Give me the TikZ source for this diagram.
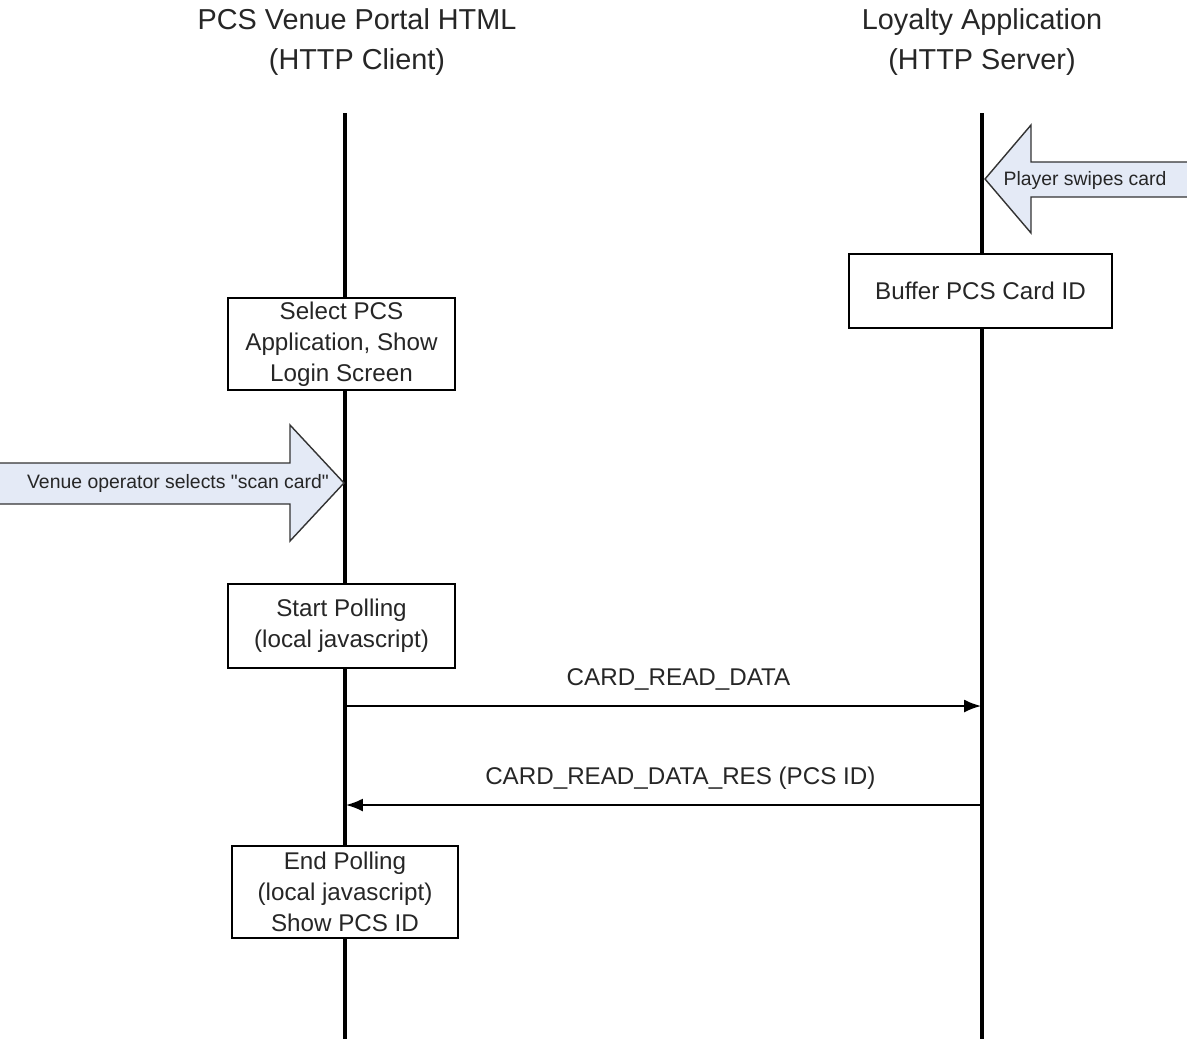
\documentclass[tikz,border=0pt]{standalone}
\usepackage{fontspec}
\setmainfont{Liberation Sans}[Ligatures=TeXOff]
\usetikzlibrary{arrows.meta}

\definecolor{eventfill}{HTML}{E4EAF6}
\definecolor{inkgray}{HTML}{262626}

\tikzstyle{title} = [align=center,text=inkgray,font=\fontsize{20.5}{28.5}\selectfont]
\tikzstyle{lifeline} = [line width=2.8pt]
\tikzstyle{actbox} = [draw,line width=1.3pt,fill=white,align=center,inner sep=0pt,text=inkgray,font=\fontsize{17.2}{22}\selectfont]
\tikzstyle{msglabel} = [text=inkgray,font=\fontsize{17.2}{22}\selectfont]
\tikzstyle{msg} = [line width=1.2pt,-{Latex[length=0.42cm,width=0.32cm]}]
\tikzstyle{eventarrow} = [draw=black!80,line width=1pt]
\tikzstyle{eventlabel} = [text=inkgray,font=\fontsize{13.8}{16}\selectfont]

\begin{document}
\begin{tikzpicture}[x=0.025cm,y=-0.025cm]
	\useasboundingbox (0,0) rectangle (1187,1039);

	% actors
	\node[title] (client) at (357,42) {PCS Venue Portal HTML\\(HTTP Client)};
	\node[title] (server) at (982,42) {Loyalty Application\\(HTTP Server)};

	\coordinate (ctop) at (345,113);
	\coordinate (cbot) at (345,1039);
	\coordinate (stop) at (982,113);
	\coordinate (sbot) at (982,1039);
	\draw[lifeline] (ctop) -- (cbot);
	\draw[lifeline] (stop) -- (sbot);

	% external events
	\fill[eventfill] (1190,162) -- (1031,162) -- (1031,125) -- (985,179)
		-- (1031,233) -- (1031,197) -- (1190,197) -- cycle;
	\draw[eventarrow] (1190,162) -- (1031,162) -- (1031,125) -- (985,179)
		-- (1031,233) -- (1031,197) -- (1190,197);
	\node[eventlabel] (swipe) at (1085,180) {Player swipes card};

	\fill[eventfill] (-3,463) -- (290,463) -- (290,425) -- (344,483)
		-- (290,541) -- (290,504) -- (-3,504) -- cycle;
	\draw[eventarrow] (-3,463) -- (290,463) -- (290,425) -- (344,483)
		-- (290,541) -- (290,504) -- (-3,504);
	\node[eventlabel] (scan) at (178,483) {Venue operator selects "scan card"};

	% activities
	\node[actbox,minimum width=6.575cm,minimum height=1.85cm] (buffer) at (980.5,291) {Buffer PCS Card ID};
	\node[actbox,minimum width=5.675cm,minimum height=2.3cm] (select) at (341.5,344) {Select PCS\\Application, Show\\Login Screen};
	\node[actbox,minimum width=5.675cm,minimum height=2.1cm] (startpoll) at (341.5,626) {Start Polling\\(local javascript)};
	\node[actbox,minimum width=5.65cm,minimum height=2.3cm] (endpoll) at (345,892) {End Polling\\(local javascript)\\Show PCS ID};

	% messages
	\coordinate (req1) at (345,706);
	\coordinate (req2) at (981,706);
	\coordinate (res1) at (981,805);
	\coordinate (res2) at (346,805);
	\draw[msg] (req1) -- node[msglabel][above=7pt,xshift=11pt]{CARD\_READ\_DATA}(req2);
	\draw[msg] (res1) -- node[msglabel][above=7pt,xshift=12pt]{CARD\_READ\_DATA\_RES (PCS ID)}(res2);
\end{tikzpicture}
\end{document}
